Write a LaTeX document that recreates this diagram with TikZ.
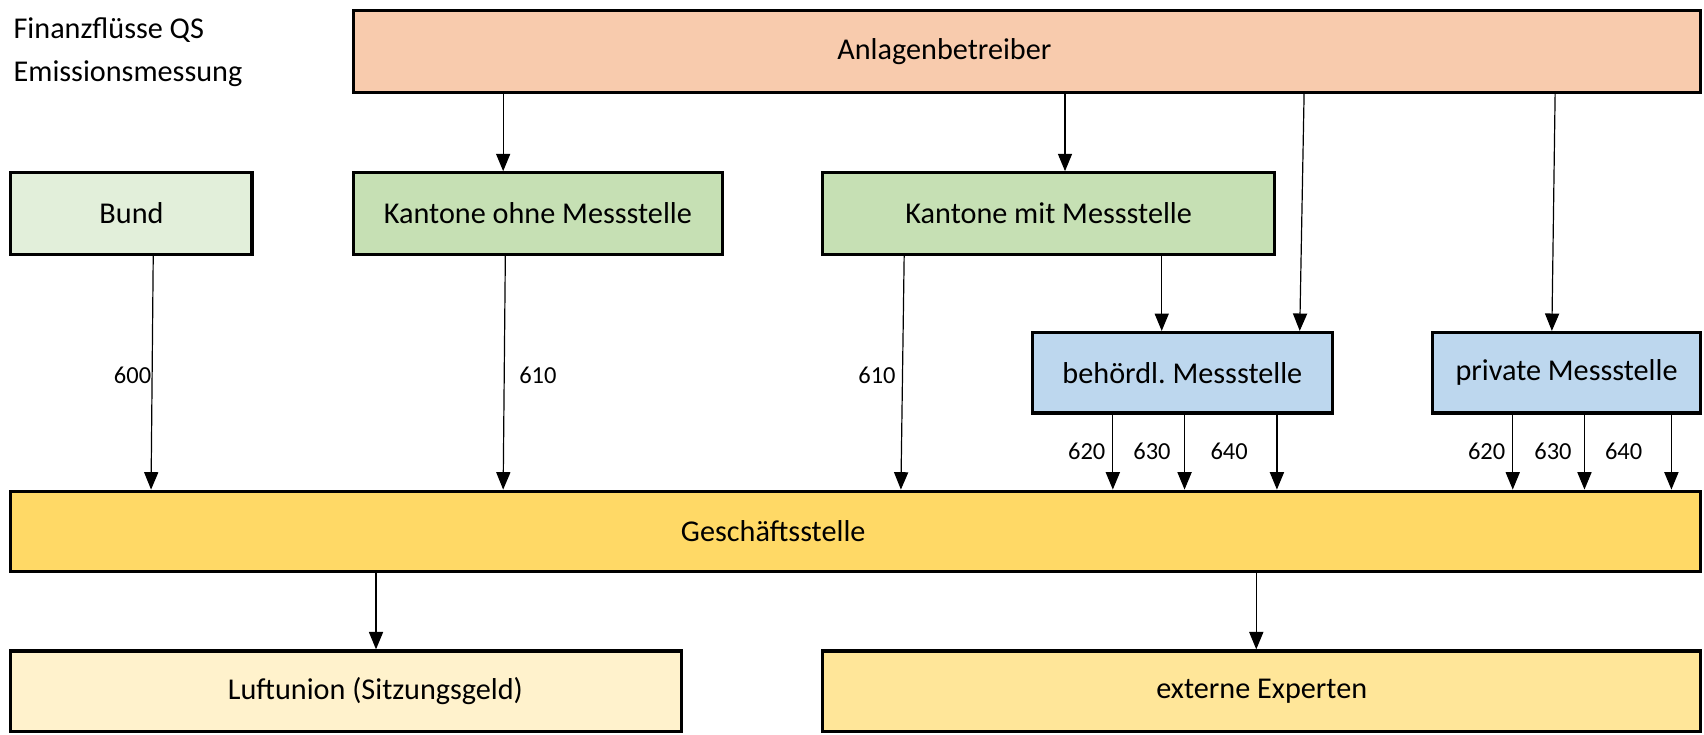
\documentclass[tikz,border=0pt]{standalone}
\usepackage{fontspec}
\setmainfont{Carlito}
\usepackage{tikz}
\usetikzlibrary{positioning, arrows.meta}

\definecolor{anlagenfill}{HTML}{F8CBAD}
\definecolor{bundfill}{HTML}{E2EFDA}
\definecolor{kantonfill}{HTML}{C6E0B4}
\definecolor{messfill}{HTML}{BDD7EE}
\definecolor{gsfill}{HTML}{FFD966}
\definecolor{luftfill}{HTML}{FFF2CC}
\definecolor{expfill}{HTML}{FFE699}

\newcommand{\boxfont}{\fontsize{27.8}{40}\selectfont}
\newcommand{\numfont}{\fontsize{22.5}{27}\selectfont}

\begin{document}
\begin{tikzpicture}[x=1pt, y=-1pt, font=\boxfont,
    box/.style={draw, line width=3pt, minimum height=75pt, inner sep=0pt},
    flow/.style={-{Triangle[length=16pt,width=13pt]}, line width=1.1pt},
    num/.style={font=\numfont, inner sep=0pt}]

    \useasboundingbox (0,0) rectangle (1568,676);

    % title
    \node[anchor=west, align=left] (titel) at (9,48) {Finanzflüsse QS\\Emissionsmessung};

    % first row: who pays
    \node[box, fill=anlagenfill, minimum width=1240pt, label={[xshift=-76pt]center:Anlagenbetreiber}] (anlagen) at (945,47.5) {};

    % second row: bund and kantone
    \node[box, fill=bundfill, minimum width=222pt] (bund) at (121,196.5) {Bund};
    \node[box, fill=kantonfill, minimum width=340pt] (kohne) at (495,196.5) {Kantone ohne Messstelle};
    \node[box, fill=kantonfill, minimum width=416pt] (kmit) at (965,196.5) {Kantone mit Messstelle};

    % third row: messstellen
    \node[box, fill=messfill, minimum width=276pt, minimum height=74pt] (behoerdl) at (1088,343) {behördl.\ Messstelle};
    \node[box, fill=messfill, minimum width=247pt, minimum height=74pt] (privat) at (1441.5,343) {private Messstelle};

    % geschaeftsstelle
    \node[box, fill=gsfill, minimum width=1555pt, minimum height=74pt, label={[xshift=-76pt]center:Geschäftsstelle}] (gs) at (787.5,489) {};

    % last row: who gets paid
    \node[box, fill=luftfill, minimum width=617pt, minimum height=74pt, label={[xshift=27pt]center:Luftunion (Sitzungsgeld)}] (luft) at (318.5,636) {};
    \node[box, fill=expfill, minimum width=808pt, minimum height=74pt] (extern) at (1161,636) {externe Experten};

    % arrows from anlagenbetreiber
    \draw[flow] (anlagen.south -| 463,0) -- (kohne.north -| 463,0);
    \draw[flow] (anlagen.south -| 980,0) -- (kmit.north -| 980,0);
    \draw[flow] (anlagen.south -| 1200,0) -- (behoerdl.north -| 1196,0);
    \draw[flow] (anlagen.south -| 1431,0) -- (privat.north -| 1428,0);
    \draw[flow] (kmit.south -| 1069,0) -- (behoerdl.north -| 1069,0);

    % arrows into geschaeftsstelle
    \draw[flow] (bund.south -| 141,0) -- (gs.north -| 139,0);
    \draw[flow] (kohne.south -| 465,0) -- (gs.north -| 463,0);
    \draw[flow] (kmit.south -| 832,0) -- (gs.north -| 829,0);
    \draw[flow] (behoerdl.south -| 1024,0) -- (gs.north -| 1024,0);
    \draw[flow] (behoerdl.south -| 1090,0) -- (gs.north -| 1090,0);
    \draw[flow] (behoerdl.south -| 1175,0) -- (gs.north -| 1175,0);
    \draw[flow] (privat.south -| 1392,0) -- (gs.north -| 1392,0);
    \draw[flow] (privat.south -| 1458,0) -- (gs.north -| 1458,0);
    \draw[flow] (privat.south -| 1538,0) -- (gs.north -| 1538,0);

    % amounts
    \node[num] (n600) at (122,345) {600};
    \node[num] (n610a) at (495,345) {610};
    \node[num] (n610b) at (807,345) {610};
    \node[num] (n620a) at (1000,415) {620};
    \node[num] (n630a) at (1060,415) {630};
    \node[num] (n640a) at (1131,415) {640};
    \node[num] (n620b) at (1368,415) {620};
    \node[num] (n630b) at (1429,415) {630};
    \node[num] (n640b) at (1494,415) {640};

    % arrows out of geschaeftsstelle
    \draw[flow] (gs.south -| 346,0) -- (luft.north -| 346,0);
    \draw[flow] (gs.south -| 1156,0) -- (extern.north -| 1156,0);

\end{tikzpicture}
\end{document}
